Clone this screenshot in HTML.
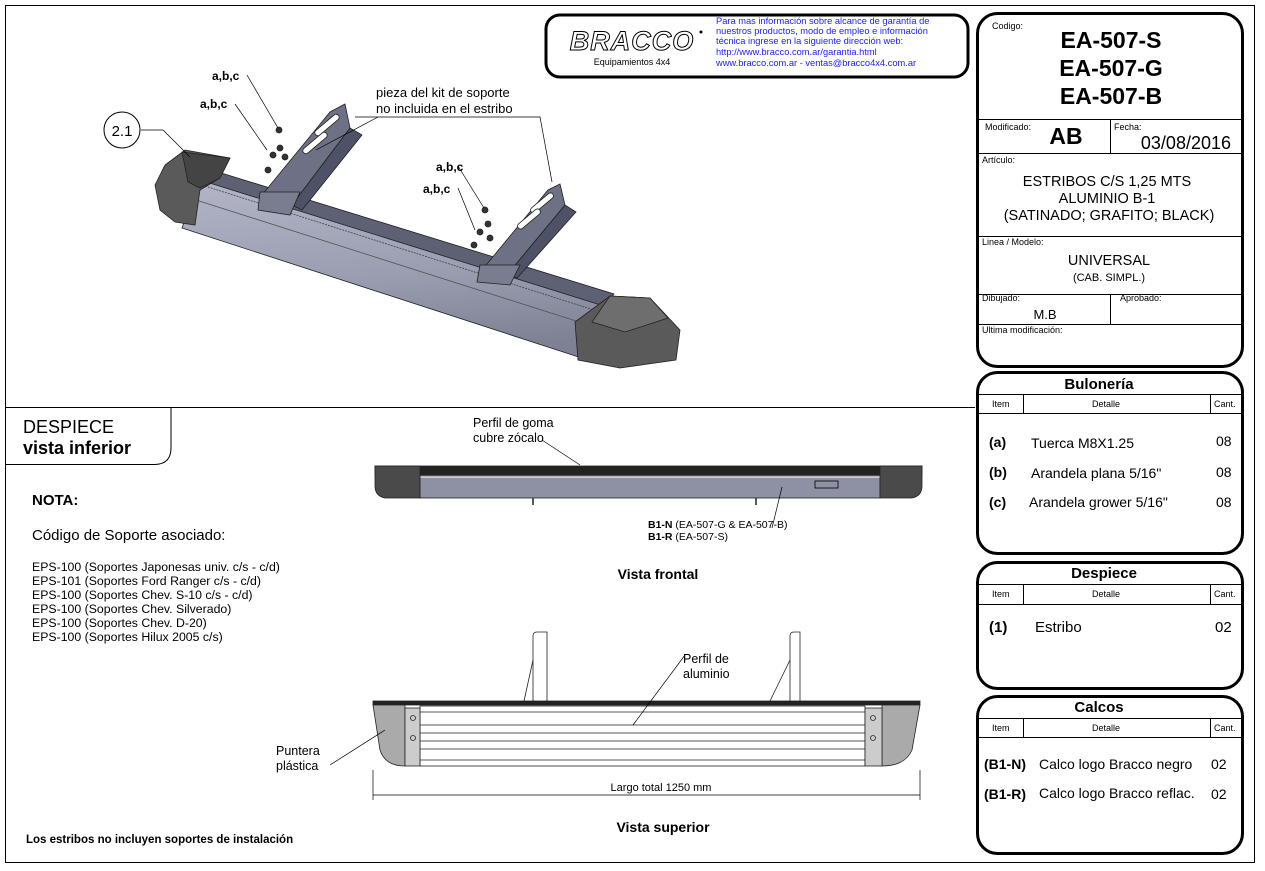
<!DOCTYPE html>
<html><head><meta charset="utf-8"><style>
html,body{margin:0;padding:0;background:#fff;}
svg{display:block;font-family:"Liberation Sans",Arial,sans-serif;}
</style></head><body>
<svg width="1265" height="871" viewBox="0 0 1265 871" xmlns="http://www.w3.org/2000/svg">
<defs>
<linearGradient id="tube" x1="0" y1="0" x2="0.15" y2="1">
<stop offset="0" stop-color="#b4b6c8"/><stop offset="0.6" stop-color="#9a9cb0"/><stop offset="1" stop-color="#7e8094"/>
</linearGradient>
</defs>
<rect x="0" y="0" width="1265" height="871" fill="#fff"/>
<rect x="5.5" y="5.5" width="1249" height="857" fill="none" stroke="#000" stroke-width="1"/>
<line x1="5" y1="407.5" x2="975" y2="407.5" stroke="#000"/>
<path d="M5,464.5 H155 Q171,464 171,448 V408" fill="none" stroke="#000"/>
<text x="23" y="433" font-size="18">DESPIECE</text>
<text x="23" y="454" font-size="18" font-weight="bold">vista inferior</text>

<rect x="546" y="15" width="422" height="62" rx="14" fill="#fff" stroke="#000" stroke-width="3"/>
<text x="632" y="50" font-size="27" font-style="italic" font-weight="bold" fill="#fff" stroke="#000" stroke-width="1" text-anchor="middle" letter-spacing="1">BRACCO</text>
<circle cx="701" cy="32" r="1.5" fill="#000"/>
<text x="632" y="65" font-size="9" text-anchor="middle">Equipamientos 4x4</text>
<g font-size="9.3" fill="#2020ff">
<text x="716" y="24">Para mas información sobre alcance de garantía de</text>
<text x="716" y="34">nuestros productos, modo de empleo e información</text>
<text x="716" y="44">técnica ingrese en la siguiente dirección web:</text>
<text x="716" y="55">http://www.bracco.com.ar/garantia.html</text>
<text x="716" y="66">www.bracco.com.ar - ventas@bracco4x4.com.ar</text>
</g>

<!-- 3D drawing -->
<g stroke="#222" stroke-width="0.8">
<polygon points="200,178 602,304 594,362 182,228" fill="url(#tube)"/>
<polygon points="205,168 614,294 604,306 200,180" fill="#5e6074"/>
<line x1="205" y1="186" x2="600" y2="312" stroke="#444" stroke-dasharray="2,1"/>
<line x1="196" y1="200" x2="598" y2="328" stroke="#555"/>
<polygon points="155,185 165,165 185,150 230,158 220,178 200,190 195,225 175,222 160,210" fill="#5a5a5a"/>
<polygon points="182,152 230,158 220,178 200,188 188,182" fill="#444"/>
<polygon points="575,322 610,296 650,298 680,330 676,360 620,368 578,360" fill="#5a5a5a"/>
<polygon points="610,296 650,298 668,318 625,332 592,322" fill="#6e6e6e"/>
<!-- left bracket -->
<polygon points="262,195 330,112 345,104 350,128 292,205 276,212" fill="#6e7085"/>
<polygon points="292,205 350,128 362,135 302,210" fill="#4f5166"/>
<polygon points="260,192 300,192 290,215 258,210" fill="#7a7c90"/>
<rect x="312" y="122" width="30" height="6" rx="3" transform="rotate(-40 327 125)" fill="#fff"/>
<rect x="300" y="140" width="30" height="6" rx="3" transform="rotate(-40 315 143)" fill="#fff"/>
<!-- right bracket -->
<polygon points="482,270 548,190 560,184 565,205 507,275 492,278" fill="#6e7085"/>
<polygon points="507,275 565,205 576,212 517,278" fill="#4f5166"/>
<polygon points="480,265 520,265 510,285 477,282" fill="#7a7c90"/>
<rect x="528" y="200" width="28" height="6" rx="3" transform="rotate(-40 542 203)" fill="#fff"/>
<rect x="515" y="216" width="28" height="6" rx="3" transform="rotate(-40 529 219)" fill="#fff"/>
<g fill="#333"><circle cx="279" cy="130" r="3"/><circle cx="273" cy="155" r="3"/><circle cx="280" cy="148" r="3"/><circle cx="268" cy="170" r="3"/><circle cx="285" cy="157" r="3"/>
<circle cx="485" cy="210" r="3"/><circle cx="480" cy="232" r="3"/><circle cx="488" cy="224" r="3"/><circle cx="474" cy="245" r="3"/><circle cx="490" cy="238" r="3"/></g>
</g>
<g stroke="#000" stroke-width="0.7" fill="none">
<line x1="247" y1="75" x2="278" y2="128"/>
<line x1="235" y1="104" x2="267" y2="150"/>
<path d="M355,117 L378,117 H540 L552,182"/>
<line x1="378" y1="117" x2="316" y2="150"/>
<line x1="458" y1="166" x2="484" y2="208"/>
<line x1="458" y1="188" x2="475" y2="230"/>
<path d="M141,130 H163 L190,157"/>
</g>
<circle cx="122" cy="130" r="18" fill="#fff" stroke="#000"/>
<text x="122" y="136" font-size="15" text-anchor="middle">2.1</text>
<g font-size="12" font-weight="bold">
<text x="212" y="80">a,b,c</text><text x="200" y="108">a,b,c</text>
<text x="436" y="171">a,b,c</text><text x="423" y="193">a,b,c</text>
</g>
<text x="376" y="97" font-size="13">pieza del kit de soporte</text>
<text x="376" y="113" font-size="13">no incluida en el estribo</text>

<!-- front view -->
<g stroke="#222" stroke-width="0.8">
<rect x="375" y="466" width="547" height="9" fill="#222"/>
<rect x="420" y="476" width="460" height="22" fill="#8e90a4"/>
<line x1="420" y1="477" x2="880" y2="477" stroke="#ddd" stroke-width="1.5"/>
<path d="M375,466 H420 V498 H385 Q375,496 375,486 Z" fill="#4a4a4a"/>
<path d="M880,466 H922 V486 Q922,496 912,498 H880 Z" fill="#4a4a4a"/>
<rect x="815" y="481" width="23" height="7" fill="none" stroke="#000"/>
<line x1="533" y1="498" x2="533" y2="505" stroke-width="1.5"/>
<line x1="756" y1="498" x2="756" y2="505" stroke-width="1.5"/>
</g>
<line x1="542" y1="440" x2="580" y2="465" stroke="#000" stroke-width="0.7"/>
<line x1="772" y1="528" x2="782" y2="487" stroke="#000" stroke-width="0.7"/>
<text x="473" y="427" font-size="12.5">Perfil de goma</text>
<text x="473" y="442" font-size="12.5">cubre zócalo</text>
<text x="648" y="528" font-size="10.5"><tspan font-weight="bold">B1-N</tspan> (EA-507-G &amp; EA-507-B)</text>
<text x="648" y="540" font-size="10.5"><tspan font-weight="bold">B1-R</tspan> (EA-507-S)</text>
<text x="658" y="579" font-size="14" font-weight="bold" text-anchor="middle">Vista frontal</text>

<!-- top view -->
<g stroke="#222" stroke-width="0.8" fill="none">
<path d="M533,701 V636 Q533,632 537,632 H547 V701" fill="#fff"/>
<path d="M533,660 L524,701"/>
<path d="M790,701 V636 Q790,632 794,632 H800 V701" fill="#fff"/>
<path d="M790,660 L770,701"/>
<rect x="373" y="701" width="547" height="4" fill="#222"/>
<rect x="420" y="706" width="445" height="60" fill="#fff"/>
<line x1="420" y1="712" x2="865" y2="712"/><line x1="420" y1="725" x2="865" y2="725"/>
<line x1="420" y1="733" x2="865" y2="733"/><line x1="420" y1="741" x2="865" y2="741"/>
<line x1="420" y1="749" x2="865" y2="749"/><line x1="420" y1="760" x2="865" y2="760"/>
<path d="M373,705 H405 V766 Q385,766 380,750 Z" fill="#aaa"/>
<rect x="405" y="708" width="15" height="58" fill="#ccc"/>
<path d="M920,705 H882 V766 Q905,766 912,750 Z" fill="#aaa"/>
<rect x="865" y="708" width="17" height="58" fill="#ccc"/>
<circle cx="413" cy="718" r="2.5"/><circle cx="413" cy="738" r="2.5"/>
<circle cx="873" cy="718" r="2.5"/><circle cx="873" cy="738" r="2.5"/>
<line x1="373" y1="770" x2="373" y2="800"/><line x1="920" y1="770" x2="920" y2="800"/>
<line x1="373" y1="795" x2="920" y2="795" stroke="#000"/>
<line x1="633" y1="725" x2="685" y2="655" stroke="#000" stroke-width="0.7"/>
<line x1="330" y1="765" x2="385" y2="730" stroke="#000" stroke-width="0.7"/>
</g>
<text x="683" y="663" font-size="12.5">Perfil de</text>
<text x="683" y="678" font-size="12.5">aluminio</text>
<text x="276" y="755" font-size="12.5">Puntera</text>
<text x="276" y="770" font-size="12.5">plástica</text>
<text x="661" y="791" font-size="11" text-anchor="middle">Largo total 1250 mm</text>
<text x="663" y="832" font-size="14" font-weight="bold" text-anchor="middle">Vista superior</text>

<text x="32" y="505" font-size="15" font-weight="bold">NOTA:</text>
<text x="32" y="540" font-size="15">Código de Soporte asociado:</text>
<g font-size="12.3">
<text x="32" y="571">EPS-100 (Soportes Japonesas univ. c/s - c/d)</text>
<text x="32" y="585">EPS-101 (Soportes Ford Ranger c/s - c/d)</text>
<text x="32" y="599">EPS-100 (Soportes Chev. S-10 c/s - c/d)</text>
<text x="32" y="613">EPS-100 (Soportes Chev. Silverado)</text>
<text x="32" y="627">EPS-100 (Soportes Chev. D-20)</text>
<text x="32" y="641">EPS-100 (Soportes Hilux 2005 c/s)</text>
</g>
<text x="26" y="843" font-size="11.5" font-weight="bold">Los estribos no incluyen soportes de instalación</text>

<!-- right panel 1 -->
<rect x="977.5" y="13.5" width="265" height="353" rx="20" fill="#fff" stroke="#000" stroke-width="3"/>
<g stroke="#000" stroke-width="1">
<line x1="979" y1="119.5" x2="1241" y2="119.5"/>
<line x1="1110.5" y1="119" x2="1110.5" y2="153"/>
<line x1="979" y1="153.5" x2="1241" y2="153.5"/>
<line x1="979" y1="236.5" x2="1241" y2="236.5"/>
<line x1="979" y1="294.5" x2="1241" y2="294.5"/>
<line x1="1110.5" y1="294" x2="1110.5" y2="324"/>
<line x1="979" y1="324.5" x2="1241" y2="324.5"/>
</g>
<text x="992" y="29" font-size="9">Codigo:</text>
<g font-size="23" font-weight="bold" text-anchor="middle">
<text x="1111" y="48">EA-507-S</text><text x="1111" y="76">EA-507-G</text><text x="1111" y="104">EA-507-B</text>
</g>
<text x="985" y="130" font-size="9">Modificado:</text>
<text x="1066" y="144" font-size="23" font-weight="bold" text-anchor="middle">AB</text>
<text x="1114" y="130" font-size="9">Fecha:</text>
<text x="1231" y="149" font-size="18" text-anchor="end">03/08/2016</text>
<text x="982" y="163" font-size="9">Artículo:</text>
<g font-size="14.5" text-anchor="middle">
<text x="1107" y="186">ESTRIBOS C/S 1,25 MTS</text>
<text x="1107" y="203">ALUMINIO B-1</text>
<text x="1109" y="220">(SATINADO; GRAFITO; BLACK)</text>
<text x="1109" y="265">UNIVERSAL</text>
</g>
<text x="982" y="245" font-size="9">Linea / Modelo:</text>
<text x="1109" y="281" font-size="11" text-anchor="middle">(CAB. SIMPL.)</text>
<text x="982" y="301" font-size="9">Dibujado:</text>
<text x="1120" y="301" font-size="9">Aprobado:</text>
<text x="1045" y="319" font-size="13" text-anchor="middle">M.B</text>
<text x="982" y="333" font-size="9">Ultima modificación:</text>

<rect x="977.5" y="372.5" width="265" height="181" rx="20" fill="#fff" stroke="#000" stroke-width="3"/>
<g stroke="#000"><line x1="979" y1="394.5" x2="1241" y2="394.5"/><line x1="979" y1="413.5" x2="1241" y2="413.5"/>
<line x1="1023.5" y1="394" x2="1023.5" y2="413"/><line x1="1210.5" y1="394" x2="1210.5" y2="413"/></g>
<text x="1099" y="389" font-size="15" font-weight="bold" text-anchor="middle">Bulonería</text>
<g font-size="9"><text x="992" y="407">Item</text><text x="1106" y="407" text-anchor="middle">Detalle</text><text x="1214" y="407">Cant.</text></g>
<g font-size="14">
<text x="989" y="447" font-weight="bold">(a)</text><text x="1031" y="448">Tuerca M8X1.25</text><text x="1216" y="446">08</text>
<text x="989" y="477" font-weight="bold">(b)</text><text x="1031" y="478">Arandela plana 5/16"</text><text x="1216" y="477">08</text>
<text x="989" y="507" font-weight="bold">(c)</text><text x="1029" y="507">Arandela grower 5/16"</text><text x="1216" y="507">08</text>
</g>

<rect x="977.5" y="562.5" width="265" height="126" rx="20" fill="#fff" stroke="#000" stroke-width="3"/>
<g stroke="#000"><line x1="979" y1="584.5" x2="1241" y2="584.5"/><line x1="979" y1="604.5" x2="1241" y2="604.5"/>
<line x1="1023.5" y1="584" x2="1023.5" y2="604"/><line x1="1210.5" y1="584" x2="1210.5" y2="604"/></g>
<text x="1104" y="578" font-size="15" font-weight="bold" text-anchor="middle">Despiece</text>
<g font-size="9"><text x="992" y="597">Item</text><text x="1106" y="597" text-anchor="middle">Detalle</text><text x="1214" y="597">Cant.</text></g>
<g font-size="15"><text x="989" y="632" font-weight="bold">(1)</text><text x="1035" y="632">Estribo</text><text x="1215" y="632">02</text></g>

<rect x="977.5" y="696.5" width="265" height="157" rx="20" fill="#fff" stroke="#000" stroke-width="3"/>
<g stroke="#000"><line x1="979" y1="718.5" x2="1241" y2="718.5"/><line x1="979" y1="737.5" x2="1241" y2="737.5"/>
<line x1="1023.5" y1="718" x2="1023.5" y2="737"/><line x1="1210.5" y1="718" x2="1210.5" y2="737"/></g>
<text x="1099" y="712" font-size="15" font-weight="bold" text-anchor="middle">Calcos</text>
<g font-size="9"><text x="992" y="731">Item</text><text x="1106" y="731" text-anchor="middle">Detalle</text><text x="1214" y="731">Cant.</text></g>
<g font-size="14">
<text x="984" y="769" font-weight="bold">(B1-N)</text><text x="1039" y="769">Calco logo Bracco negro</text><text x="1211" y="769">02</text>
<text x="984" y="799" font-weight="bold">(B1-R)</text><text x="1039" y="798">Calco logo Bracco reflac.</text><text x="1211" y="799">02</text>
</g>
</svg>
</body></html>
